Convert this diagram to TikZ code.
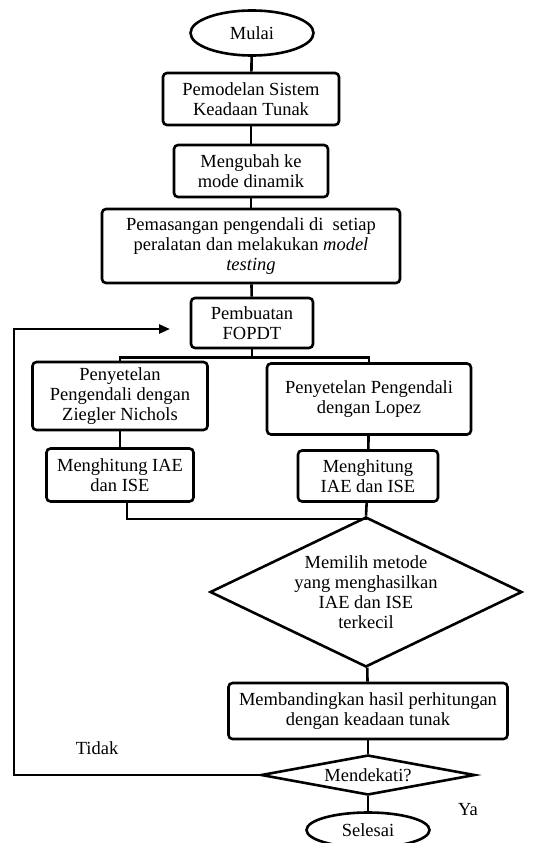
\documentclass[tikz,border=0pt]{standalone}
\usepackage{fontspec}
\setmainfont{Liberation Serif}
\usetikzlibrary{arrows.meta, shapes.geometric}

\begin{document}
\begin{tikzpicture}[x=1pt, y=-1pt, >={Triangle[length=11pt,width=9pt]},
    every node/.style={font=\fontsize{18.5}{20}\selectfont, align=center},
    proc/.style={draw, line width=2.6pt, rounded corners=4pt, inner sep=2pt},
    term/.style={draw, ellipse, line width=2.6pt, inner sep=0pt},
    choice/.style={draw, diamond, line width=2.6pt, inner sep=0pt},
    line/.style={line width=2.6pt}]
    \useasboundingbox (0,0) rectangle (548,843);
    \fill[white] (0,0) rectangle (548,843);
    \node[term, minimum width=123pt, minimum height=45pt] (mulai) at (252,33) {Mulai};
    \node[proc, minimum width=176pt, minimum height=52pt] (pemodelan) at (251,99) {Pemodelan Sistem\\Keadaan Tunak};
    \node[proc, minimum width=154pt, minimum height=52pt] (mengubah) at (251,171) {Mengubah ke\\mode dinamik};
    \node[proc, minimum width=298pt, minimum height=74pt] (pemasangan) at (251,246) {Pemasangan pengendali di \ setiap\\peralatan dan melakukan \textit{model}\\\textit{testing}};
    \node[proc, minimum width=122pt, minimum height=50pt] (fopdt) at (252,323) {Pembuatan\\FOPDT};
    \node[proc, minimum width=175pt, minimum height=68pt] (zn) at (120,396) {Penyetelan\\Pengendali dengan\\Ziegler Nichols};
    \node[proc, minimum width=204pt, minimum height=71pt] (lopez) at (369,399) {Penyetelan Pengendali\\dengan Lopez};
    \node[proc, minimum width=147pt, minimum height=53pt] (hitungA) at (120,475) {Menghitung IAE\\dan ISE};
    \node[proc, minimum width=140pt, minimum height=51pt] (hitungB) at (368,476) {Menghitung\\IAE dan ISE};
    \node[choice, aspect=2.08, minimum width=312pt, minimum height=150pt] (pilih) at (366,592) {Memilih metode\\yang menghasilkan\\IAE dan ISE\\terkecil};
    \node[proc, minimum width=279pt, minimum height=56pt] (banding) at (368,711) {Membandingkan hasil perhitungan\\dengan keadaan tunak};
    \node[choice, aspect=5.35, minimum width=214pt, minimum height=40pt] (dekat) at (368,775) {Mendekati?};
    \node[term, minimum width=123pt, minimum height=35pt] (selesai) at (368,830) {Selesai};
    \node (tidak) at (97,748) {Tidak};
    \node (ya) at (468,810) {Ya};
    \coordinate (loopCorner) at (14,329);
    \coordinate (loopTip) at (170,329);
    \draw[line] (mulai) -- (pemodelan);
    \draw[line] (pemodelan) -- (mengubah);
    \draw[line] (mengubah) -- (pemasangan);
    \draw[line] (pemasangan) -- (fopdt);
    \draw[line] (fopdt.south) -- ++(0,8) coordinate (split);
    \draw[line] (split) -| (zn.north);
    \draw[line] (split) -| (lopez.north);
    \draw[line] (zn) -- (hitungA);
    \draw[line] (lopez) -- (hitungB);
    \draw[line] ([xshift=7pt]hitungA.south) -- ++(0,16) -| (pilih.north);
    \draw[line] (hitungB) -- (pilih.north);
    \draw[line] (pilih) -- (banding);
    \draw[line] (banding) -- (dekat);
    \draw[line] (dekat) -- (selesai);
    \draw[line, ->] (dekat.west) -| (loopCorner) -- (loopTip);
\end{tikzpicture}
\end{document}
